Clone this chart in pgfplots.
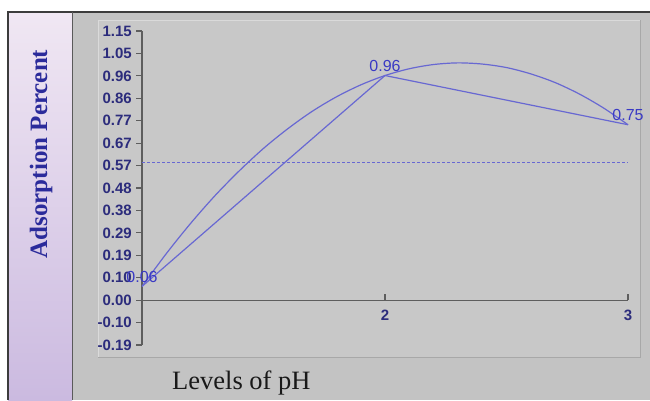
\documentclass[border=0pt]{standalone}
\usepackage{pgfplots}
\pgfplotsset{compat=1.18}
\usepackage{fontspec}
\setmainfont{Liberation Serif}
\newfontfamily\tickfont{Liberation Sans}

\definecolor{bggray}{HTML}{C3C3C3}
\definecolor{panel}{HTML}{C8C8C8}
\definecolor{panellight}{HTML}{DADADA}
\definecolor{paneldark}{HTML}{A8A8A8}
\definecolor{frame}{HTML}{3C3C3C}
\definecolor{framemid}{HTML}{5A5A5A}
\definecolor{striptop}{HTML}{F0E7F3}
\definecolor{stripbot}{HTML}{CBBAE0}
\definecolor{axiscol}{HTML}{5E5E5E}
\definecolor{navy}{HTML}{2C2C7C}
\definecolor{curve}{HTML}{6868D2}
\definecolor{lblblue}{HTML}{3A3AC4}
\definecolor{titleblue}{HTML}{2B2B9B}
\definecolor{xlab}{HTML}{191919}

\begin{document}
\begin{tikzpicture}
% background, in pixel units measured from the top left corner
\begin{scope}[x=1bp,y=-1bp]
  \useasboundingbox (0,0) rectangle (650,400);
  \fill[white] (0,0) rectangle (650,400);
  \fill[bggray] (72,12) rectangle (650,400);
  \shade[top color=striptop, bottom color=stripbot] (8,12) rectangle (72,400);
  \fill[panel] (98,20) rectangle (640,357);
  \draw[panellight, line width=1bp] (98,357) -- (98,20) -- (640,20);
  \draw[paneldark, line width=1bp] (640,20) -- (640,357) -- (98,357);
  \draw[frame, line width=1.2bp] (8,400) -- (8,12) -- (650,12);
  \draw[framemid, line width=1bp] (72,12) -- (72,400);
  \node[rotate=90, text=titleblue, font=\fontsize{25bp}{29bp}\selectfont\bfseries] at (41,154) {Adsorption Percent};
  \node[anchor=base west, inner sep=0pt, text=xlab, font=\fontsize{26.5bp}{31bp}\selectfont] at (172,389) {Levels of pH};
\end{scope}

\begin{axis}[
    at={(142bp,-345bp)}, anchor=south west,
    scale only axis,
    width=486bp, height=314bp,
    xmin=1, xmax=3,
    ymin=-0.19, ymax=1.15,
    clip=false,
    axis x line=middle,
    axis y line=left,
    axis line style={-, draw=axiscol, line width=1.8bp},
    hide obscured x ticks=false,
    hide obscured y ticks=false,
    xtick={2,3},
    xticklabels={2,3},
    ytick={-0.19,-0.0943,0.0014,0.0971,0.1929,0.2886,0.3843,0.48,0.5757,0.6714,0.7671,0.8629,0.9586,1.0543,1.15},
    yticklabels={-0.19,-0.10,0.00,0.10,0.19,0.29,0.38,0.48,0.57,0.67,0.77,0.86,0.96,1.05,1.15},
    xtick align=inside,
    ytick align=outside,
    major tick length=6bp,
    tick style={draw=axiscol, line width=1.2bp},
    ticklabel style={text=navy, font=\tickfont\fontsize{15bp}{17bp}\selectfont\bfseries},
    yticklabel style={inner sep=1bp, xshift=-3bp},
    xticklabel style={yshift=-6bp},
]
% quadratic trend
\addplot[curve, line width=1.2bp, smooth] coordinates {
    (1.0,0.060) (1.1,0.200) (1.2,0.329) (1.3,0.447) (1.4,0.553)
    (1.5,0.649) (1.6,0.733) (1.7,0.807) (1.8,0.869) (1.9,0.920)
    (2.0,0.960) (2.1,0.989) (2.2,1.007) (2.3,1.014) (2.4,1.009)
    (2.5,0.994) (2.6,0.967) (2.7,0.930) (2.8,0.881) (2.9,0.821)
    (3.0,0.750)
};
% mean line
\addplot[curve, line width=1bp, dash pattern=on 3bp off 2bp] coordinates {(1,0.59) (3,0.59)};
% observed values
\addplot[curve, line width=1.2bp,
    point meta=explicit symbolic,
    nodes near coords,
    every node near coord/.append style={anchor=south, inner sep=1bp, yshift=2bp,
        text=lblblue, font=\tickfont\fontsize{16bp}{18bp}\selectfont}]
    coordinates {(1,0.06) [0.06] (2,0.96) [0.96] (3,0.75) [0.75]};
\end{axis}
\end{tikzpicture}
\end{document}
